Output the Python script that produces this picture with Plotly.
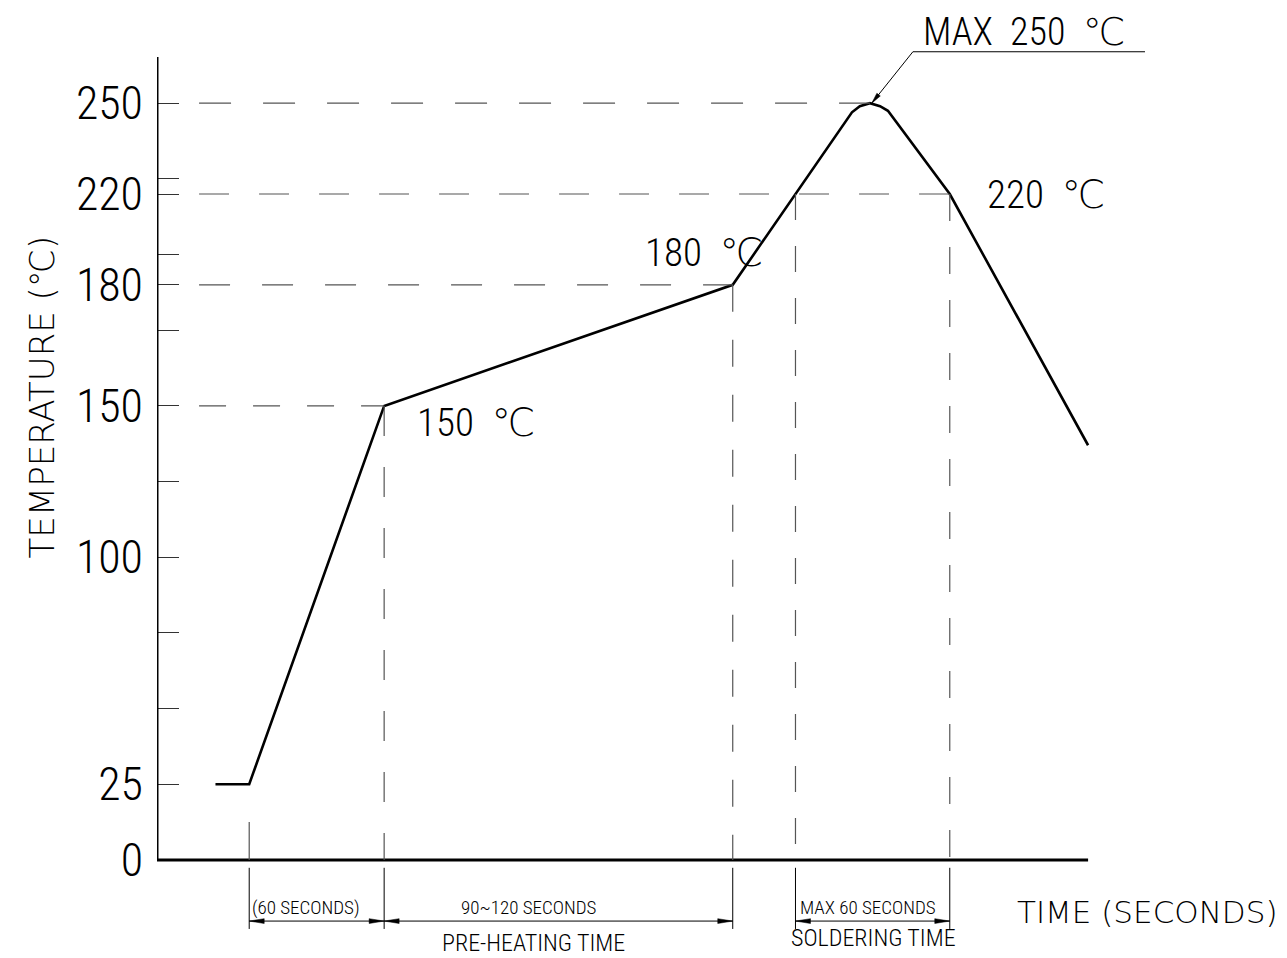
import numpy as np
import plotly.graph_objects as go

# ---------------- data (schematic reflow profile) ----------------
# time axis in schematic seconds (the drawing has no numeric time ticks)
profile_time = [26, 41, 101, 256, 309, 312.5, 317, 321.5, 325, 352.5, 414]
profile_temp = [25, 25, 150, 180, 247, 249, 250, 249, 247.5, 220, 137]

# labelled temperatures on the y axis and where the drawing places them
axis_temps = [0, 25, 100, 150, 180, 220, 250]
axis_pos = [0, 25, 100, 150, 190, 220, 250]
minor_pos = [50, 75, 125, 175, 200, 225]

# key time marks
t_ramp_start = 41
t_preheat_start = 101
t_preheat_end = 256
t_peak = 317
t_220_down = 352.5

dim_labels = ["(60 SECONDS)", "90~120 SECONDS", "MAX 60 SECONDS"]
dim_label_x = [66.3, 165.6, 316.1]
phase_labels = ["PRE-HEATING TIME", "SOLDERING TIME"]
phase_label_x = [167.2, 318.4]
curve_labels = ["150  ℃", "180  ℃", "220  ℃"]


def ypos(t):
    return np.interp(t, axis_temps, axis_pos)


y_curve = ypos(profile_temp)
t_220_up = float(np.interp(ypos(220), y_curve[3:5], profile_time[3:5]))

# pixel scale of the axes (used only for arrow-head sizes)
X_RANGE = [0, 1130 / 2.249]
Y_RANGE = [-32.4, 284.1]
PX_X = 1130 / (X_RANGE[1] - X_RANGE[0])
PX_Y = 958 / (Y_RANGE[1] - Y_RANGE[0])

NARROW = "Roboto Condensed, DejaVu Sans, sans-serif"
WIDE = "DejaVu Sans, sans-serif"
DASH_C = "#555555"


def arrow_head(xt, yt, xf, yf, length=15, half=2.4):
    """narrow filled arrow head with tip at (xt, yt), pointing away from (xf, yf)"""
    dxp = (xt - xf) * PX_X
    dyp = (yt - yf) * PX_Y
    n = np.hypot(dxp, dyp)
    ux, uy = dxp / n, dyp / n
    bx, by = -ux * length, -uy * length
    px_, py_ = -uy * half, ux * half
    p1 = (xt + (bx + px_) / PX_X, yt + (by + py_) / PX_Y)
    p2 = (xt + (bx - px_) / PX_X, yt + (by - py_) / PX_Y)
    path = f"M{xt},{yt} L{p1[0]},{p1[1]} L{p2[0]},{p2[1]} Z"
    return dict(type="path", path=path, xref="x", yref="y", fillcolor="black",
                line=dict(color="black", width=0.5))


fig = go.Figure()
fig.add_trace(go.Scatter(x=profile_time, y=y_curve, mode="lines",
                         line=dict(color="black", width=2.6), hoverinfo="skip",
                         showlegend=False))

shapes = []
# axes
shapes.append(dict(type="line", x0=0, x1=414, y0=0, y1=0, xref="x", yref="y",
                   line=dict(color="black", width=3)))
shapes.append(dict(type="line", x0=0, x1=0, y0=0, y1=265.3, xref="x", yref="y",
                   line=dict(color="black", width=3)))

# horizontal dashed guides
h_guides = [(250, t_peak, "32px,32px"), (220, t_220_down, "30px,30px"),
            (180, t_preheat_end, "31px,32px"), (150, t_preheat_start, "27px,27px")]
for temp, xend, dash in h_guides:
    shapes.append(dict(type="line", x0=18.7, x1=xend, y0=ypos(temp), y1=ypos(temp),
                       xref="x", yref="y", line=dict(color=DASH_C, width=1.2, dash=dash)))

# vertical dashed guides
v_guides = [(t_preheat_start, 150, "30px,31px"), (t_preheat_end, 180, "27px,28px"),
            (t_220_up, 220, "26px,26px"), (t_220_down, 220, "27px,26px")]
for xv, temp, dash in v_guides:
    shapes.append(dict(type="line", x0=xv, x1=xv, y0=ypos(temp), y1=0,
                       xref="x", yref="y", line=dict(color=DASH_C, width=1.2, dash=dash)))
shapes.append(dict(type="line", x0=t_ramp_start, x1=t_ramp_start, y0=12.5, y1=0,
                   xref="x", yref="y", line=dict(color=DASH_C, width=1.2)))

# extension lines below the axis
for xv in [t_ramp_start, t_preheat_start, t_preheat_end, t_220_up, t_220_down]:
    shapes.append(dict(type="line", x0=xv, x1=xv, y0=-2.6, y1=-22.8,
                       xref="x", yref="y", line=dict(color="black", width=1)))

annotations = []
dims = [(t_ramp_start, t_preheat_start), (t_preheat_start, t_preheat_end),
        (t_220_up, t_220_down)]
DIM_Y = -20.2
for (a, b), lab, lx in zip(dims, dim_labels, dim_label_x):
    shapes.append(dict(type="line", x0=a, x1=b, y0=DIM_Y, y1=DIM_Y, xref="x", yref="y",
                       line=dict(color="black", width=1)))
    shapes.append(arrow_head(a, DIM_Y, b, DIM_Y))
    shapes.append(arrow_head(b, DIM_Y, a, DIM_Y))
    annotations.append(dict(x=lx, y=-15.6, xref="x", yref="y", text=lab,
                            showarrow=False,
                            font=dict(family=NARROW, size=19, weight=300, color="black")))

for lab, lx, ly in zip(phase_labels, phase_label_x, [-27.6, -25.8]):
    annotations.append(dict(x=lx, y=ly, xref="x", yref="y", text=lab, showarrow=False,
                            font=dict(family=NARROW, size=24, weight=300, color="black")))
annotations.append(dict(x=440.2, y=-17.2, xref="x", yref="y", text="TIME (SECONDS)",
                        showarrow=False,
                        font=dict(family=WIDE, size=31, weight=200, color="black")))

# y axis title (placed in the left margin)
annotations.append(dict(x=-115 / 1130, y=152.8, xref="paper", yref="y",
                        xanchor="center", yanchor="middle",
                        text="TEMPERATURE (℃)", textangle=-90, showarrow=False,
                        font=dict(family=WIDE, size=34, weight=200, color="black")))

# curve labels
for (xl, yl), lab in zip([(114.7, 144.4), (216, 200.5), (368.2, 219.7)], curve_labels):
    annotations.append(dict(x=xl, y=yl, xref="x", yref="y", text=lab, xanchor="left",
                            showarrow=False,
                            font=dict(family=NARROW, size=39, weight=300, color="black")))

# MAX 250 label with leader
annotations.append(dict(x=385.5, y=273.6, xref="x", yref="y", text="MAX  250  ℃",
                        showarrow=False,
                        font=dict(family=NARROW, size=38, weight=300, color="black")))
LEAD = (336.1, 267.0)
shapes.append(dict(type="line", x0=LEAD[0], x1=439.3, y0=LEAD[1], y1=LEAD[1],
                   xref="x", yref="y", line=dict(color="black", width=1)))
tip = (t_peak + 0.8, ypos(250))
shapes.append(dict(type="line", x0=LEAD[0], x1=tip[0], y0=LEAD[1], y1=tip[1],
                   xref="x", yref="y", line=dict(color="black", width=1)))
shapes.append(arrow_head(tip[0], tip[1], LEAD[0], LEAD[1], length=11, half=2.2))

tick_vals = list(axis_pos) + minor_pos
tick_text = [str(t) for t in axis_temps] + [""] * len(minor_pos)

fig.update_layout(
    width=1287, height=958,
    margin=dict(l=157, r=0, t=0, b=0),
    paper_bgcolor="white", plot_bgcolor="white",
    shapes=shapes, annotations=annotations,
    xaxis=dict(range=X_RANGE, visible=False),
    yaxis=dict(range=Y_RANGE, showgrid=False, zeroline=False, showline=False,
               tickmode="array", tickvals=tick_vals, ticktext=tick_text,
               ticks="inside", ticklen=22, tickwidth=1.2, tickcolor="#333333",
               ticklabelstandoff=13,
               tickfont=dict(family=NARROW, size=46, weight=300, color="black")),
    showlegend=False,
)

fig.write_html("out.html", config={"displayModeBar": False},
               post_script="document.body.style.margin='0px';document.body.style.overflow='hidden';")
